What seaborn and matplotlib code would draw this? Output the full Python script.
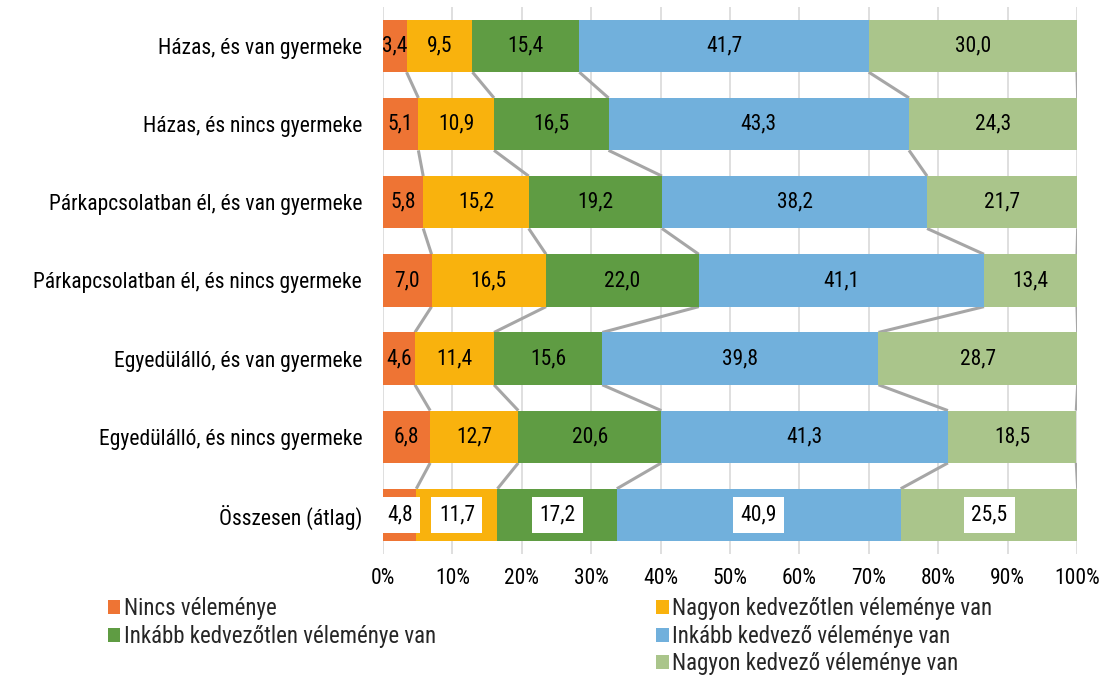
import matplotlib
matplotlib.use("Agg")
import matplotlib.pyplot as plt
from matplotlib import font_manager
from matplotlib.patches import Patch
import seaborn as sns
import pandas as pd
import numpy as np

categories = [
    "Házas, és van gyermeke",
    "Házas, és nincs gyermeke",
    "Párkapcsolatban él, és van gyermeke",
    "Párkapcsolatban él, és nincs gyermeke",
    "Egyedülálló, és van gyermeke",
    "Egyedülálló, és nincs gyermeke",
    "Összesen (átlag)",
]
series = [
    "Nincs véleménye",
    "Nagyon kedvezőtlen véleménye van",
    "Inkább kedvezőtlen véleménye van",
    "Inkább kedvező véleménye van",
    "Nagyon kedvező véleménye van",
]
nincs = [3.4, 5.1, 5.8, 7.0, 4.6, 6.8, 4.8]
nagyon_kedvezotlen = [9.5, 10.9, 15.2, 16.5, 11.4, 12.7, 11.7]
inkabb_kedvezotlen = [15.4, 16.5, 19.2, 22.0, 15.6, 20.6, 17.2]
inkabb_kedvezo = [41.7, 43.3, 38.2, 41.1, 39.8, 41.3, 40.9]
nagyon_kedvezo = [30.0, 24.3, 21.7, 13.4, 28.7, 18.5, 25.5]
x_ticks = [0, 10, 20, 30, 40, 50, 60, 70, 80, 90, 100]

colors = ["#EE7434", "#F9B20D", "#5F9C43", "#71B0DC", "#AAC58B"]

available = {f.name for f in font_manager.fontManager.ttflist}
if "Roboto Condensed" in available:
    family, fs, lfs = "Roboto Condensed", 15.5, 16.5
else:
    family, fs, lfs = "Roboto", 14, 14

sns.set_theme(style="white")
plt.rcParams["font.family"] = [family, "DejaVu Sans"]

values = np.array([nincs, nagyon_kedvezotlen, inkabb_kedvezotlen,
                   inkabb_kedvezo, nagyon_kedvezo])
cum = values.cumsum(axis=0)

fig = plt.figure(figsize=(11.12, 6.78), dpi=100)
ax = fig.add_axes([0.3444, 0.1829, 0.9685 - 0.3444, 0.9898 - 0.1829])

bar_h = 0.67
# stacked look: draw cumulative totals from the widest down
for i in range(len(series) - 1, -1, -1):
    df = pd.DataFrame({"cat": categories, "val": cum[i]})
    sns.barplot(data=df, y="cat", x="val", order=categories, color=colors[i],
                width=bar_h, orient="h", ax=ax, saturation=1,
                edgecolor="none", linewidth=0, zorder=2)

# connector lines between the ends of each segment
for i in range(len(series)):
    for r in range(len(categories) - 1):
        ax.plot([cum[i][r], cum[i][r + 1]],
                [r + bar_h / 2, r + 1 - bar_h / 2],
                color="#A6A6A6", lw=2.2, zorder=1.5, solid_capstyle="butt")

for i in range(len(series)):
    for r in range(len(categories)):
        v = values[i][r]
        xc = cum[i][r] - v / 2
        txt = f"{v:.1f}".replace(".", ",")
        if r == len(categories) - 1:
            ax.text(xc, r, txt, ha="center", va="center", fontsize=fs,
                    color="black", zorder=4,
                    bbox=dict(boxstyle="square,pad=0.35", fc="white",
                              ec="none"))
        else:
            ax.text(xc, r, txt, ha="center", va="center", fontsize=fs,
                    color="black", zorder=4)

ax.set_xlim(0, 100)
ax.set_ylim(len(categories) - 0.5, -0.5)
ax.set_xticks(x_ticks)
ax.set_xticklabels([f"{t}%" for t in x_ticks])
ax.xaxis.grid(True, color="#D9D9D9", lw=1.2, zorder=0)
ax.set_axisbelow(True)
ax.set_xlabel("")
ax.set_ylabel("")
for s in ax.spines.values():
    s.set_visible(False)
ax.tick_params(axis="both", length=0, labelsize=fs, colors="black")
ax.tick_params(axis="x", pad=10)
ax.tick_params(axis="y", pad=15)

handles = [Patch(facecolor=c, edgecolor="none") for c in colors]
leg_kw = dict(frameon=False, fontsize=lfs, handlelength=0.55,
              handleheight=0.55, handletextpad=0.15, labelspacing=0.2,
              borderpad=0, borderaxespad=0)
fig.legend([handles[0], handles[2]], [series[0], series[2]],
           loc="upper left", bbox_to_anchor=(0.097, 0.119), **leg_kw)
fig.legend([handles[1], handles[3], handles[4]],
           [series[1], series[3], series[4]],
           loc="upper left", bbox_to_anchor=(0.590, 0.119), **leg_kw)

fig.savefig("out.png", dpi=100)
